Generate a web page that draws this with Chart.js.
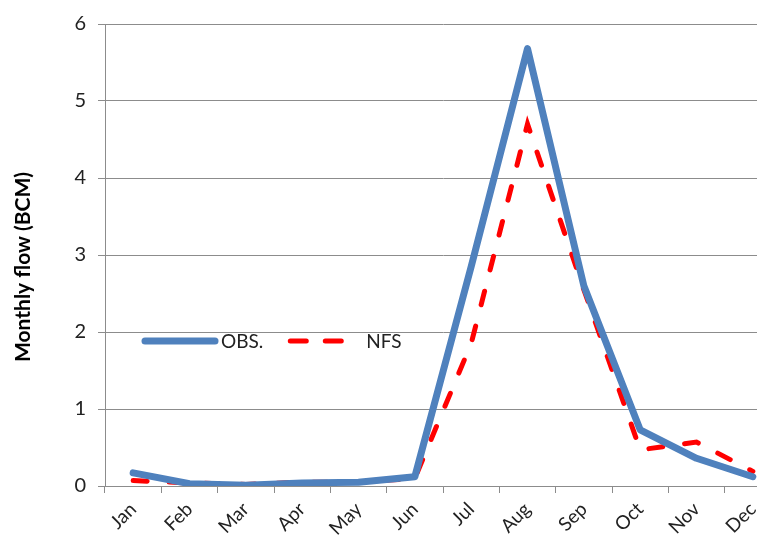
<!DOCTYPE html>
<html>
<head>
<meta charset="utf-8">
<script src="https://cdn.jsdelivr.net/npm/chart.js@4/dist/chart.umd.min.js"></script>
<style>
  html, body { margin: 0; padding: 0; background: #fff; overflow: hidden; }
  #wrap { width: 782px; height: 545px; position: relative; }
</style>
</head>
<body>
<div id="wrap"><canvas id="flowChart"></canvas></div>
<script>
const months = ['Jan', 'Feb', 'Mar', 'Apr', 'May', 'Jun', 'Jul', 'Aug', 'Sep', 'Oct', 'Nov', 'Dec'];
const obsFlow = [0.17, 0.03, 0.01, 0.04, 0.05, 0.12, 2.85, 5.68, 2.6, 0.73, 0.36, 0.12];
const nfsFlow = [0.07, 0.04, 0.02, 0.05, 0.05, 0.1, 1.85, 4.7, 2.55, 0.47, 0.57, 0.19];
const yTicks = [0, 1, 2, 3, 4, 5, 6];
const yTitle = 'Monthly flow (BCM)';

const FONT = 'Lato, "Open Sans", sans-serif';
const GRID = '#8c8c8c';

// legend sits inside the plot, like the original
const insideLegend = {
  id: 'insideLegend',
  afterDraw(chart) {
    const { ctx, chartArea } = chart;
    const y = chartArea.top + 317;
    let x = chartArea.left + 40;
    ctx.save();
    ctx.font = '19px ' + FONT;
    ctx.textBaseline = 'middle';
    chart.data.datasets.forEach((ds, i) => {
      ctx.beginPath();
      ctx.strokeStyle = ds.borderColor;
      ctx.lineWidth = ds.borderWidth;
      ctx.lineCap = 'round';
      ctx.setLineDash(i === 0 ? [] : [16, 19]);
      const len = i === 0 ? 70 : 52;
      ctx.moveTo(x, y);
      ctx.lineTo(x + len, y);
      ctx.stroke();
      ctx.setLineDash([]);
      ctx.fillStyle = '#222';
      const tx = x + len + (i === 0 ? 6 : 24);
      ctx.fillText(ds.label, tx, y + 1);
      x = tx + ctx.measureText(ds.label).width + 27;
    });
    ctx.restore();
  }
};

// y-axis title, placed a little below the middle as in the original
const yAxisTitle = {
  id: 'yAxisTitle',
  afterDraw(chart) {
    const { ctx, chartArea } = chart;
    ctx.save();
    ctx.translate(23, chartArea.top + 243);
    ctx.rotate(-Math.PI / 2);
    ctx.font = 'bold 21px ' + FONT;
    ctx.fillStyle = '#000';
    ctx.textAlign = 'center';
    ctx.textBaseline = 'middle';
    ctx.fillText(yTitle, 0, 0);
    ctx.restore();
  }
};

new Chart(document.getElementById('flowChart'), {
  type: 'line',
  data: {
    labels: months,
    datasets: [
      {
        label: 'OBS.',
        data: obsFlow,
        borderColor: '#4f81bd',
        borderWidth: 7,
        pointRadius: 0,
        tension: 0,
        borderJoinStyle: 'round',
        borderCapStyle: 'round'
      },
      {
        label: 'NFS',
        data: nfsFlow,
        borderColor: '#ff0000',
        borderWidth: 5,
        borderDash: [14, 22],
        borderCapStyle: 'round',
        pointRadius: 0,
        tension: 0
      }
    ]
  },
  options: {
    responsive: true,
    maintainAspectRatio: false,
    animation: false,
    layout: { padding: { top: 24, right: 1, left: 0, bottom: 0 } },
    plugins: {
      legend: { display: false },
      tooltip: { enabled: false }
    },
    scales: {
      x: {
        offset: true,
        grid: {
          offset: true,
          drawOnChartArea: false,
          tickLength: 7,
          color: GRID
        },
        border: { color: GRID },
        ticks: {
          minRotation: 45,
          maxRotation: 45,
          color: '#222',
          font: { family: FONT, size: 19 },
          padding: 5
        },
        afterFit(scale) { scale.height = 59; }
      },
      y: {
        min: 0,
        max: 6,
        afterBuildTicks(scale) { scale.ticks = yTicks.map(v => ({ value: v })); },
        grid: { color: GRID, tickLength: 7 },
        border: { color: GRID },
        ticks: {
          color: '#222',
          font: { family: FONT, size: 20 },
          padding: 12
        },
        afterFit(scale) { scale.width = 105; }
      }
    }
  },
  plugins: [insideLegend, yAxisTitle]
});
</script>
</body>
</html>
